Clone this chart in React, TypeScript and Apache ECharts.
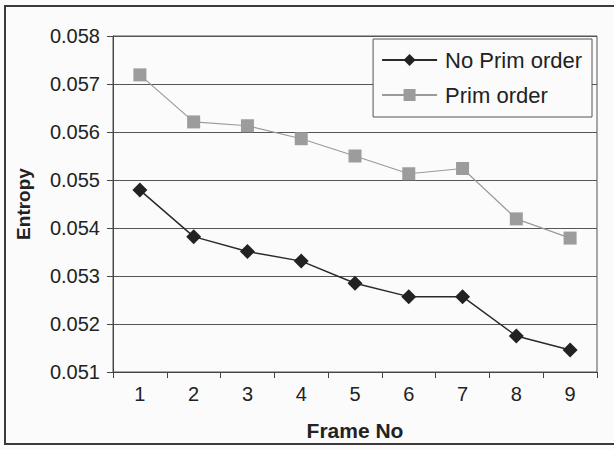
import React, { useEffect, useRef } from "react";
import * as echarts from "echarts";

const frames = ["1", "2", "3", "4", "5", "6", "7", "8", "9"];
const noPrimOrder = [0.05479, 0.05382, 0.05351, 0.05331, 0.05285, 0.05257, 0.05257, 0.05175, 0.05146];
const primOrder = [0.05719, 0.05621, 0.05613, 0.05586, 0.0555, 0.05513, 0.05524, 0.05419, 0.05379];

const FONT = "'Liberation Sans', Arial, sans-serif";

export default function App() {
  const ref = useRef<HTMLDivElement>(null);
  useEffect(() => {
    if (!ref.current) return;
    const chart = echarts.init(ref.current, null, { renderer: "svg" });
    chart.setOption({
      animation: false,
      backgroundColor: "#fbfbfb",
      textStyle: { fontFamily: FONT },
      graphic: [
        {
          type: "rect",
          shape: { x: 5, y: 6, width: 612, height: 438 },
          style: { fill: "none", stroke: "#3a3a3a", lineWidth: 2 },
          silent: true,
        },
      ],
      grid: {
        left: 113,
        right: 17,
        top: 36,
        bottom: 78,
        show: true,
        borderColor: "#555",
        borderWidth: 1,
        backgroundColor: "transparent",
      },
      legend: {
        right: 22,
        top: 39,
        orient: "vertical",
        backgroundColor: "#fbfbfb",
        borderColor: "#555",
        borderWidth: 1,
        padding: [10, 10, 11, 8],
        itemGap: 13,
        itemWidth: 55,
        itemHeight: 15,
        textStyle: { fontSize: 22, color: "#222", fontFamily: FONT, padding: [0, 0, 0, 3] },
        data: ["No Prim order", "Prim order"],
      },
      xAxis: {
        type: "category",
        data: frames,
        boundaryGap: true,
        name: "Frame No",
        nameLocation: "middle",
        nameGap: 48,
        nameTextStyle: { fontSize: 21, fontWeight: "bold", color: "#222", fontFamily: FONT },
        axisLine: { lineStyle: { color: "#444", width: 1 } },
        axisTick: { show: true, length: 6, inside: false, lineStyle: { color: "#444" } },
        axisLabel: { fontSize: 20, color: "#222", margin: 12, fontFamily: FONT },
        splitLine: { show: false },
      },
      yAxis: {
        type: "value",
        min: 0.051,
        max: 0.058,
        interval: 0.001,
        name: "Entropy",
        nameLocation: "middle",
        nameGap: 80,
        nameTextStyle: { fontSize: 19, fontWeight: "bold", color: "#222", fontFamily: FONT },
        axisLine: { show: true, lineStyle: { color: "#444", width: 1 } },
        axisTick: { show: true, length: 6, lineStyle: { color: "#444" } },
        axisLabel: {
          fontSize: 20,
          color: "#222",
          margin: 13,
          fontFamily: FONT,
          formatter: (v: number) => v.toFixed(3),
        },
        splitLine: { show: true, lineStyle: { color: "#555", width: 1 } },
      },
      series: [
        {
          name: "No Prim order",
          type: "line",
          data: noPrimOrder,
          symbol: "diamond",
          symbolSize: 15,
          lineStyle: { color: "#2a2a2a", width: 1.5 },
          itemStyle: { color: "#222" },
        },
        {
          name: "Prim order",
          type: "line",
          data: primOrder,
          symbol: "rect",
          symbolSize: 13,
          lineStyle: { color: "#9a9a9a", width: 1.2 },
          itemStyle: { color: "#9c9c9c" },
        },
      ],
    });
    return () => chart.dispose();
  }, []);
  return <div ref={ref} style={{ width: 614, height: 450, position: "absolute", left: 0, top: 0 }} />;
}
